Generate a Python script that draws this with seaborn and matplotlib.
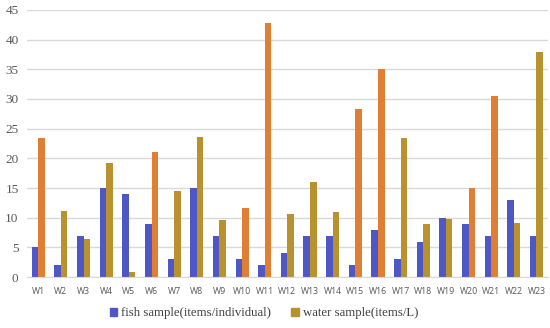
import numpy as np
import pandas as pd
import matplotlib
matplotlib.use("Agg")
import matplotlib.pyplot as plt
import seaborn as sns
from matplotlib.patches import Patch

sites = ["W%d" % i for i in range(1, 24)]
fish = [5, 2, 7, 15, 14, 9, 3, 15, 7, 3, 2, 4, 7, 7, 2, 8, 3, 6, 10, 9, 7, 13, 7]
water = [23.5, 11.2, 6.5, 19.3, 0.8, 21.0, 14.5, 23.6, 9.7, 11.7, 42.8, 10.6,
         16.0, 11.0, 28.3, 35.0, 23.5, 9.0, 9.8, 15.0, 30.5, 9.2, 37.9]
series = ["fish sample(items/individual)", "water sample(items/L)"]

# colour looks alternating orange / gold in the picture
fish_color = "#4F57C4"
gold = "#B8922F"
orange = "#E07E33"
water_tone = [orange, gold, gold, gold, gold, orange, gold, gold, gold, orange,
              orange, gold, gold, gold, orange, orange, gold, gold, gold, orange,
              orange, gold, gold]

df = pd.DataFrame({
    "site": sites * 2,
    "value": fish + water,
    "series": [series[0]] * len(sites) + [series[1]] * len(sites),
})

sns.set_style("white")
fig = plt.figure(figsize=(5.5, 3.28), dpi=100)
ax = fig.add_axes([0.049, 0.155, 0.947, 0.815])

sns.barplot(data=df, x="site", y="value", hue="series", order=sites,
            hue_order=series, palette=[fish_color, gold], width=0.58,
            saturation=1, legend=False, linewidth=0, ax=ax)

water_bars = ax.containers[1]
for bar, c in zip(water_bars, water_tone):
    bar.set_facecolor(c)

ax.set_ylim(0, 45)
ax.set_xlim(-0.5, 22.5)
ax.set_yticks(range(0, 50, 5))
ax.yaxis.grid(True, color="#d9d9d9", lw=1)
ax.set_axisbelow(True)
for s in ["top", "right", "left"]:
    ax.spines[s].set_visible(False)
ax.spines["bottom"].set_color("#d9d9d9")
ax.set_xlabel("")
ax.set_ylabel("")
ax.tick_params(axis="both", length=0)
ax.tick_params(axis="y", pad=6)
ax.tick_params(axis="x", pad=7)
for t in ax.get_yticklabels():
    t.set_family("Liberation Serif")
    t.set_fontsize(9.5)
    t.set_color("#595959")
for t in ax.get_xticklabels():
    t.set_family("Open Sans")
    t.set_fontsize(6.3)
    t.set_color("#595959")

handles = [Patch(color=fish_color), Patch(color=gold)]
fig.legend(handles, series, loc="center", bbox_to_anchor=(0.48, 0.045), ncol=2,
           frameon=False, prop={"family": "Liberation Serif", "size": 9.2},
           handlelength=0.6, handleheight=0.6, handletextpad=0.3,
           columnspacing=1.6, labelcolor="#404040")

fig.savefig("out.png", dpi=100)
